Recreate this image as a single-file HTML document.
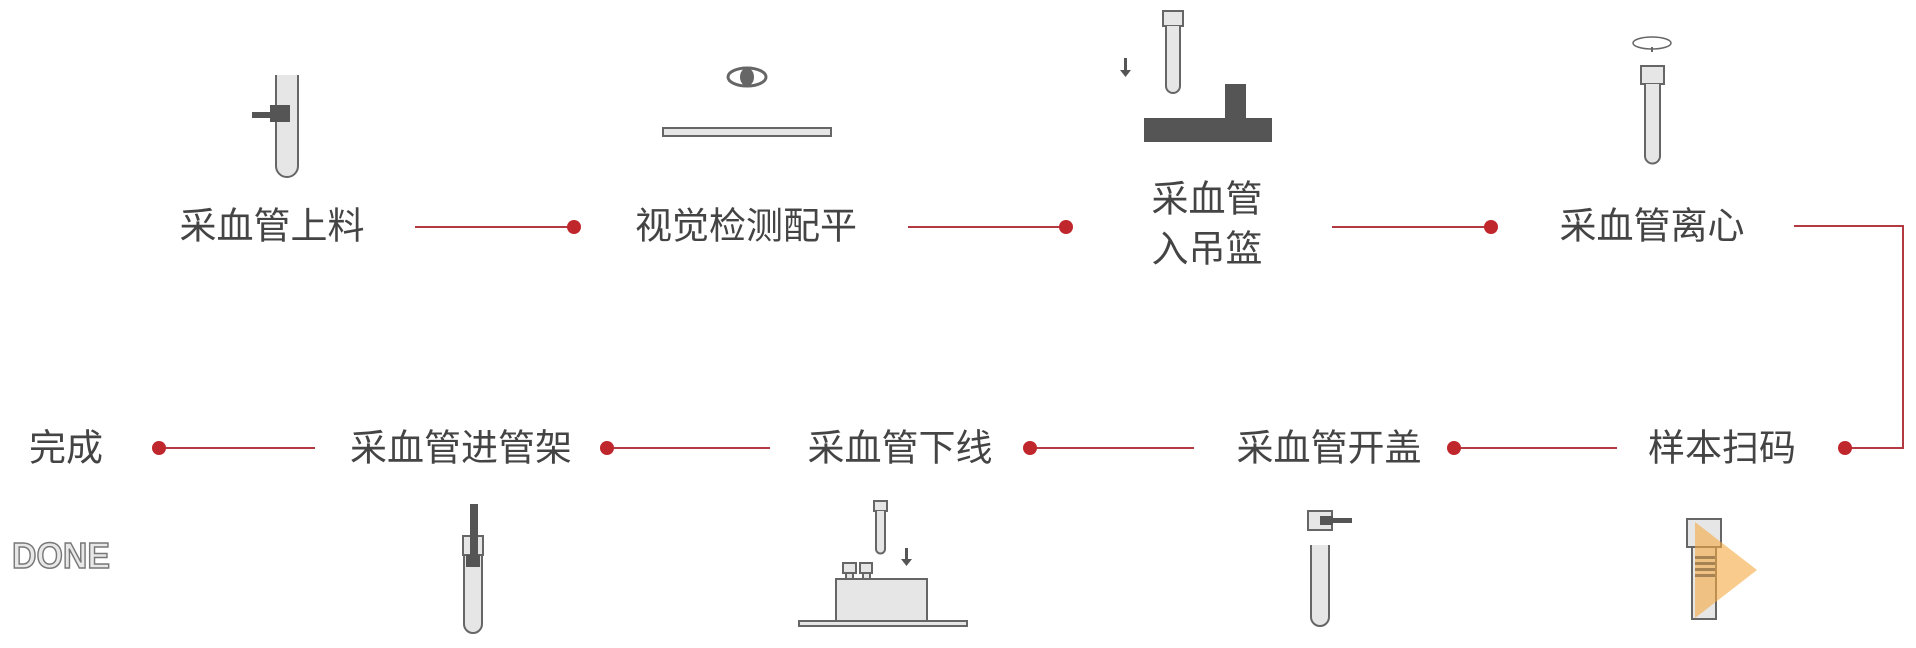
<!DOCTYPE html>
<html><head><meta charset="utf-8"><style>
html,body{margin:0;padding:0;background:#fff;}
svg{display:block;}
text{font-family:"Liberation Sans","Noto Sans CJK SC",sans-serif;}
</style></head><body>
<svg width="1916" height="648" viewBox="0 0 1916 648" xmlns="http://www.w3.org/2000/svg">
<g fill="#444" font-size="37" text-anchor="middle" dominant-baseline="central">
<text x="272" y="226">采血管上料</text>
<text x="746" y="226">视觉检测配平</text>
<text x="1207" y="199">采血管</text>
<text x="1207" y="249">入吊篮</text>
<text x="1652" y="226">采血管离心</text>
<text x="1722" y="448">样本扫码</text>
<text x="1329" y="448">采血管开盖</text>
<text x="900" y="448">采血管下线</text>
<text x="461" y="448">采血管进管架</text>
<text x="66" y="448">完成</text>
</g>
<g stroke="#b23a40" stroke-width="2" fill="none">
<line x1="415" y1="227" x2="574" y2="227"/>
<line x1="908" y1="227" x2="1066" y2="227"/>
<line x1="1332" y1="227" x2="1491" y2="227"/>
<polyline points="1794,226 1903,226 1903,448 1845,448"/>
<line x1="1617" y1="448" x2="1454" y2="448"/>
<line x1="1194" y1="448" x2="1030" y2="448"/>
<line x1="770" y1="448" x2="607" y2="448"/>
<line x1="315" y1="448" x2="159" y2="448"/>
</g>
<g fill="#c0272d">
<circle cx="574" cy="227" r="7"/><circle cx="1066" cy="227" r="7"/><circle cx="1491" cy="227" r="7"/>
<circle cx="1845" cy="448" r="7"/><circle cx="1454" cy="448" r="7"/><circle cx="1030" cy="448" r="7"/>
<circle cx="607" cy="448" r="7"/><circle cx="159" cy="448" r="7"/>
</g>
<g stroke="#666" stroke-width="2" fill="#e6e6e6">
<path d="M276 75 V166 a11 11 0 0 0 22 0 V75"/>
<rect x="663" y="128" width="168" height="8"/>
<rect x="1163" y="11" width="20" height="15"/>
<path d="M1166 26 V86 a7 7 0 0 0 14 0 V26"/>
<rect x="1641" y="66" width="23" height="18"/>
<path d="M1645 84 V156 a7.5 7.5 0 0 0 15 0 V84"/>
<rect x="1308" y="511" width="24" height="19"/>
<path d="M1311 545 V617 a9 9 0 0 0 18 0 V545"/>
<rect x="874" y="501" width="13" height="10"/>
<path d="M876 511 V549 a4.5 4.5 0 0 0 9 0 V511"/>
<rect x="843" y="563" width="13" height="10"/><rect x="860" y="563" width="12" height="10"/>
<rect x="846" y="573" width="7" height="6"/><rect x="863" y="573" width="7" height="6"/>
<rect x="836" y="579" width="91" height="43"/>
<rect x="799" y="621" width="168" height="5"/>
<path d="M464 555 V624 a9 9 0 0 0 18 0 V555"/>
<rect x="463" y="536" width="20" height="19"/>
<rect x="1692" y="547" width="24" height="72"/>
<rect x="1687" y="519" width="34" height="28"/>
</g>
<g fill="#555">
<rect x="270" y="105" width="20" height="17"/><rect x="252" y="112" width="18" height="6"/>
<rect x="1144" y="118" width="128" height="24"/><rect x="1225" y="84" width="21" height="35"/>
<rect x="1320" y="516" width="13" height="9"/><rect x="1333" y="518" width="19" height="5"/>
<rect x="470" y="504" width="8" height="63"/>
<rect x="466" y="555" width="14" height="12"/>
<path d="M1124 58 h3 v12 h4 l-5.5 7 l-5.5 -7 h4z"/>
<path d="M905 548 h3 v11 h4 l-5.5 7 l-5.5 -7 h4z"/>
</g>
<ellipse cx="747" cy="77" rx="19" ry="9" fill="none" stroke="#666" stroke-width="3"/>
<ellipse cx="747" cy="77" rx="7" ry="9" fill="#666"/>
<ellipse cx="1652" cy="43" rx="19" ry="6" fill="none" stroke="#666" stroke-width="1.5"/>
<rect x="1651" y="47" width="2" height="5" fill="#666"/>
<polygon points="1695,522 1757,570 1695,618" fill="#f5a940" opacity="0.6"/>
<g fill="#8a6a40" opacity="0.7">
<rect x="1695" y="556" width="20" height="3"/><rect x="1695" y="562" width="20" height="3"/><rect x="1695" y="568" width="20" height="3"/><rect x="1695" y="574" width="20" height="3"/>
</g>
<text x="12" y="568" font-size="36" font-weight="bold" fill="#e8e8e8" stroke="#777" stroke-width="1.5" textLength="98" lengthAdjust="spacingAndGlyphs">DONE</text>
</svg>
</body></html>
